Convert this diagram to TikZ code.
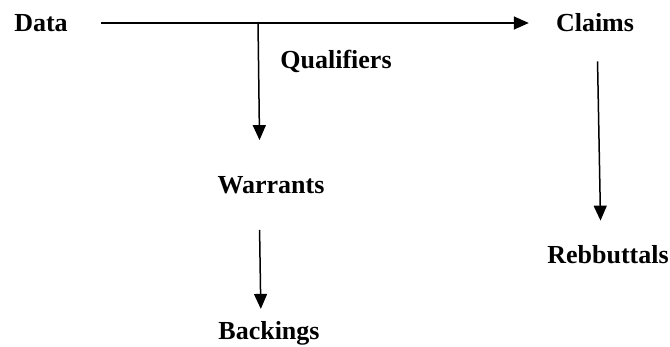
\documentclass[tikz,border=0pt]{standalone}
\usepackage{fontspec}
\setmainfont{Liberation Serif}
\usetikzlibrary{arrows.meta}
\begin{document}
\begin{tikzpicture}[x=1pt,y=-1pt,
  lbl/.style={font=\fontsize{26}{30}\selectfont\bfseries, inner sep=0pt, anchor=center},
  arr/.style={line width=1.5pt, -{Triangle[length=15pt,width=13pt]}}]
\useasboundingbox (0,0) rectangle (670,346);
\node[lbl] (data) at (41,23) {Data};
\node[lbl] (claims) at (595,23) {Claims};
\node[lbl] (qual) at (336,61) {Qualifiers};
\node[lbl] (warr) at (271,185) {Warrants};
\node[lbl] (back) at (269,333) {Backings};
\node[lbl] (rebb) at (608,255) {Rebbuttals};
\coordinate (q) at (258,22);
\draw[arr, shorten <=33pt, shorten >=27pt] (data.east) -- (claims.west);
\draw[arr, shorten >=36pt] (q) -- ([xshift=-11pt]warr.north);
\draw[arr, shorten <=36pt, shorten >=12pt] ([xshift=-12pt]warr.south) -- ([xshift=-8pt]back.north);
\draw[arr, shorten <=29pt, shorten >=25pt] ([xshift=2pt]claims.south) -- ([xshift=-7pt]rebb.north);
\end{tikzpicture}
\end{document}
